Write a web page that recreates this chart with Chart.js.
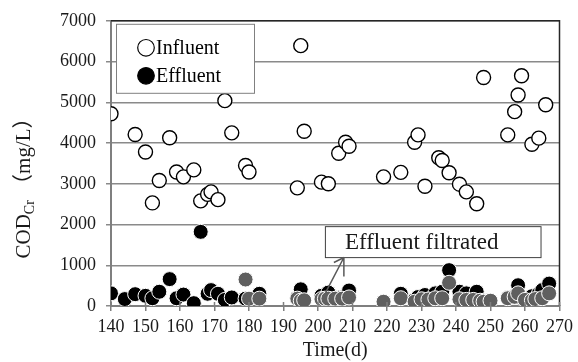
<!DOCTYPE html>
<html>
<head>
<meta charset="utf-8">
<script src="https://cdn.jsdelivr.net/npm/chart.js@4.4.1/dist/chart.umd.min.js"></script>
<style>
  html, body { margin: 0; padding: 0; background: #fff; }
  #wrap { width: 578px; height: 362px; position: relative; }
</style>
</head>
<body>
<div id="wrap"><canvas id="chart" width="578" height="362"></canvas></div>
<script>
/**
 * DATA
 */
const influentDays = [140, 147, 150, 152, 154, 157, 159, 161, 164, 166, 168, 169, 171, 173, 175, 179, 180,
    194, 195, 196, 201, 203, 206, 208, 209, 219, 224, 228, 229, 231, 235, 236, 238, 241, 243, 246, 248,
    255, 257, 258, 259, 262, 264, 266];
const influentCOD = [4720, 4210, 3780, 2530, 3080, 4130, 3290, 3170, 3340, 2580, 2740, 2800, 2610, 5040, 4250, 3450, 3290,
    2900, 6390, 4290, 3040, 3000, 3750, 4020, 3920, 3170, 3280, 4020, 4200, 2940, 3640, 3570, 3270, 2990, 2800, 2510, 5610,
    4200, 4770, 5180, 5650, 3970, 4120, 4940];

const effluentDays = [140, 144, 147, 150, 152, 154, 157, 159, 161, 164, 166, 168, 169, 171, 173, 175, 179, 183,
    194, 195, 201, 203, 206, 208, 209, 219, 224, 228, 229, 231, 234, 236, 238, 241, 243, 246, 248,
    255, 257, 258, 259, 262, 264, 265, 267];
const effluentCOD = [310, 170, 290, 250, 190, 350, 660, 190, 280, 70, 1820, 300, 390, 300, 150, 210, 180, 300,
    200, 410, 250, 330, 200, 250, 380, 100, 300, 150, 220, 270, 310, 350, 880, 350, 310, 350, 130,
    200, 250, 510, 200, 240, 300, 390, 550];

const filtratedDays = [179, 180, 183, 194, 195, 196, 201, 202, 203, 205, 207, 209, 219, 224, 228, 230, 232, 234, 236, 238,
    241, 243, 245, 247, 248, 250, 255, 257, 258, 260, 262, 263, 265, 267];
const filtratedCOD = [650, 180, 180, 180, 130, 140, 170, 180, 180, 180, 180, 210, 105, 190, 105, 165, 160, 190, 190, 570,
    165, 150, 150, 130, 105, 130, 190, 225, 310, 150, 140, 170, 190, 310];

const xTicks = [140, 150, 160, 170, 180, 190, 200, 210, 220, 230, 240, 250, 260, 270];
const yTicks = [0, 1000, 2000, 3000, 4000, 5000, 6000, 7000];

const SERIF = '"Liberation Serif", "Noto Sans CJK JP", serif';
Chart.defaults.font.family = SERIF;
const toPoints = (xs, ys) => xs.map((x, i) => ({ x: x, y: ys[i] }));

/**
 * Extra drawing: frame, legend box, y title with subscript, x title, annotation
 */
const decorations = {
    id: 'decorations',
    afterDraw(chart) {
        const ctx = chart.ctx;
        const area = chart.chartArea;
        const xs = chart.scales.x, ys = chart.scales.y;
        ctx.save();

        // top + right frame
        ctx.strokeStyle = '#262626';
        ctx.lineWidth = 1.5;
        ctx.beginPath();
        ctx.moveTo(area.left, area.top);
        ctx.lineTo(area.right, area.top);
        ctx.lineTo(area.right, area.bottom);
        ctx.stroke();

        // legend box
        const lx = area.left + 5, ly = area.top + 3;
        ctx.fillStyle = '#fff';
        ctx.fillRect(lx, ly, 138, 69);
        ctx.strokeStyle = '#808080';
        ctx.lineWidth = 1;
        ctx.strokeRect(lx + 0.5, ly + 0.5, 138, 69);
        const items = [
            { text: chart.data.datasets[0].label, fill: '#fff', stroke: '#000', cy: ly + 24 },
            { text: chart.data.datasets[2].label, fill: '#000', stroke: '#000', cy: ly + 52 }
        ];
        ctx.font = '20px ' + SERIF;
        ctx.textBaseline = 'middle';
        ctx.textAlign = 'left';
        items.forEach(it => {
            ctx.beginPath();
            ctx.arc(lx + 30, it.cy, 8.3, 0, Math.PI * 2);
            ctx.fillStyle = it.fill;
            ctx.fill();
            ctx.lineWidth = 1.2;
            ctx.strokeStyle = it.stroke;
            ctx.stroke();
            ctx.fillStyle = '#000';
            ctx.fillText(it.text, lx + 40, it.cy + 1);
        });

        // annotation "Effluent filtrated"
        const bx0 = xs.getPixelForValue(202), bx1 = xs.getPixelForValue(264.5);
        const by0 = ys.getPixelForValue(1960), by1 = ys.getPixelForValue(1200);
        ctx.fillStyle = '#fff';
        ctx.fillRect(bx0, by0, bx1 - bx0, by1 - by0);
        ctx.strokeStyle = '#404040';
        ctx.lineWidth = 1;
        ctx.strokeRect(bx0 + 0.5, by0 + 0.5, bx1 - bx0, by1 - by0);
        ctx.fillStyle = '#1a1a1a';
        ctx.font = '23px ' + SERIF;
        ctx.textBaseline = 'middle';
        ctx.fillText('Effluent filtrated', bx0 + 20, (by0 + by1) / 2 + 1);

        // arrow
        const ax0 = xs.getPixelForValue(202.2), ay0 = ys.getPixelForValue(330);
        const ax1 = xs.getPixelForValue(207.5), ay1 = ys.getPixelForValue(1190);
        ctx.strokeStyle = '#595959';
        ctx.lineWidth = 1.5;
        ctx.beginPath();
        ctx.moveTo(ax0, ay0);
        ctx.lineTo(ax1, ay1);
        ctx.moveTo(ax1, ay1);
        ctx.lineTo(ax1, ay1 + 19);
        ctx.moveTo(ax1, ay1);
        ctx.lineTo(ax1 - 10, ay1 + 5);
        ctx.stroke();

        // x ticks that cross the axis
        ctx.strokeStyle = '#7f7f7f';
        ctx.lineWidth = 1.5;
        ctx.beginPath();
        xTicks.forEach(t => {
            const px = xs.getPixelForValue(t);
            ctx.moveTo(px, area.bottom - 4);
            ctx.lineTo(px, area.bottom);
        });
        ctx.stroke();

        // x title
        ctx.fillStyle = '#1a1a1a';
        ctx.font = '20px ' + SERIF;
        ctx.textAlign = 'center';
        ctx.textBaseline = 'middle';
        ctx.fillText('Time(d)', (area.left + area.right) / 2, 351);

        // y title with subscript, rotated
        ctx.translate(24, 183);
        ctx.rotate(-Math.PI / 2);
        ctx.textAlign = 'left';
        ctx.textBaseline = 'middle';
        const big = '21px ' + SERIF, small = '14px ' + SERIF;
        const unit = ' （mg/L）';
        ctx.font = big;
        const wCOD = ctx.measureText('COD').width;
        const wUnit = ctx.measureText(unit).width;
        ctx.font = small;
        const wSub = ctx.measureText('Cr').width;
        const total = wCOD + wSub + wUnit;
        let cx = -total / 2;
        ctx.font = big;
        ctx.fillText('COD', cx, 0);
        cx += wCOD;
        ctx.font = small;
        ctx.fillText('Cr', cx, 6);
        cx += wSub;
        ctx.font = big;
        ctx.fillText(unit, cx, 0);
        ctx.restore();
    }
};

const tickFont = { family: SERIF, size: 18 };

new Chart(document.getElementById('chart'), {
    type: 'scatter',
    data: {
        datasets: [
            {
                label: 'Influent',
                data: toPoints(influentDays, influentCOD),
                backgroundColor: '#fff',
                borderColor: '#000',
                borderWidth: 1.4,
                pointRadius: 7
            },
            {
                label: 'Effluent filtrated',
                data: toPoints(filtratedDays, filtratedCOD),
                backgroundColor: '#5f5f5f',
                borderColor: '#fff',
                borderWidth: 1,
                pointRadius: 7.5
            },
            {
                label: 'Effluent',
                data: toPoints(effluentDays, effluentCOD),
                backgroundColor: '#000',
                borderColor: '#fff',
                borderWidth: 1,
                pointRadius: 7.5
            }
        ]
    },
    options: {
        responsive: false,
        animation: false,
        layout: { padding: { top: 20, right: 15, bottom: 0, left: 0 } },
        plugins: {
            legend: { display: false },
            tooltip: { enabled: false }
        },
        scales: {
            x: {
                type: 'linear',
                min: xTicks[0],
                max: xTicks[xTicks.length - 1],
                afterBuildTicks: axis => { axis.ticks = xTicks.map(v => ({ value: v })); },
                afterFit: axis => { axis.height = 56; },
                grid: { drawOnChartArea: false, drawTicks: true, tickLength: 5, color: '#7f7f7f', lineWidth: 1.5 },
                border: { color: '#7f7f7f', width: 2 },
                ticks: { color: '#1a1a1a', font: tickFont, padding: 5, maxRotation: 0, callback: v => String(v) }
            },
            y: {
                min: yTicks[0],
                max: yTicks[yTicks.length - 1],
                afterBuildTicks: axis => { axis.ticks = yTicks.map(v => ({ value: v })); },
                afterFit: axis => { axis.width = 111; },
                grid: { color: '#8a8a8a', lineWidth: 1.5, tickLength: 5 },
                border: { color: '#7f7f7f', width: 2 },
                ticks: { color: '#1a1a1a', font: tickFont, padding: 10, callback: v => String(v) }
            }
        }
    },
    plugins: [decorations]
});
</script>
</body>
</html>
